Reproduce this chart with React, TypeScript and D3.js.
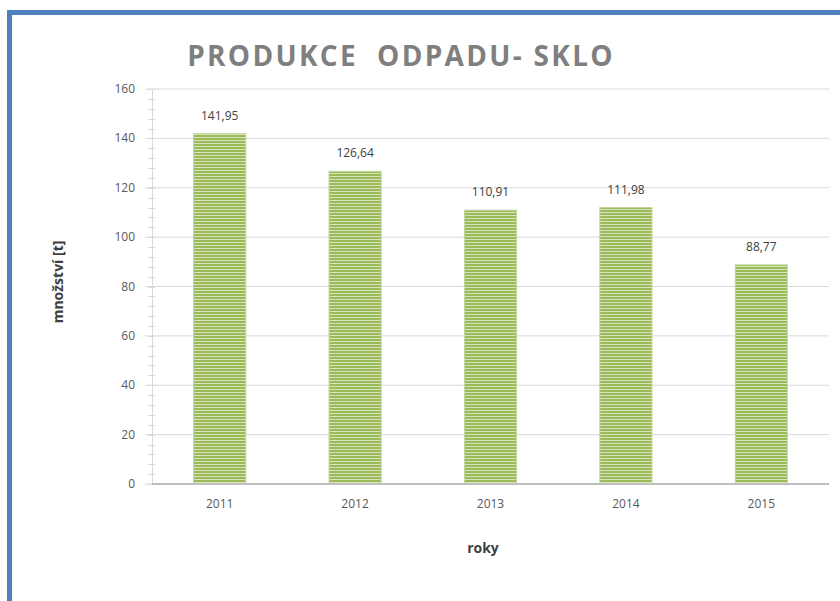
import React from "react";
import * as d3 from "d3";

const categories = ["2011", "2012", "2013", "2014", "2015"];
const values = [141.95, 126.64, 110.91, 111.98, 88.77];
const valueLabels = ["141,95", "126,64", "110,91", "111,98", "88,77"];
const yTicks = [0, 20, 40, 60, 80, 100, 120, 140, 160];
const minorTicks = d3.range(0, 161, 4);
const title = "PRODUKCE  ODPADU- SKLO";
const yTitle = "množství [t]";
const xTitle = "roky";

export default function App() {
  const W = 840, H = 601;
  const left = 152, right = 829, top = 89, bottom = 484;
  const x = d3.scaleBand().domain(categories).range([left, right]).paddingInner(0.615).paddingOuter(0.3075);
  const y = d3.scaleLinear().domain([0, 160]).range([bottom, top]);
  const font = "Open Sans, Liberation Sans, sans-serif";
  return (
    <svg width={W} height={H} style={{ position: "absolute", left: 0, top: 0 }} xmlns="http://www.w3.org/2000/svg">
      <defs>
        <pattern id="stripes" patternUnits="userSpaceOnUse" width="6" height="3">
          <rect x="0" y="0" width="6" height="3" fill="#9bbb59" />
          <rect x="0" y="2" width="6" height="1" fill="#d6e3bc" />
        </pattern>
      </defs>
      <rect x={0} y={0} width={W} height={H} fill="#ffffff" />
      <rect x={9.5} y={12.5} width={W + 20} height={H + 20} fill="#ffffff" stroke="#4f81bd" strokeWidth={5} />
      <text x={401} y={66} textAnchor="middle" fontFamily={font} fontWeight="bold" fontSize={28} fill="#7f7f7f" letterSpacing={2.3} style={{ whiteSpace: "pre" }}>
        {title}
      </text>
      {yTicks.map((t) => (
        <line key={"g" + t} x1={145} x2={right} y1={y(t)} y2={y(t)} stroke="#d9d9d9" strokeWidth={1} />
      ))}
      {minorTicks.map((t) => (
        <line key={"m" + t} x1={148} x2={155} y1={Math.round(y(t)) + 0.5} y2={Math.round(y(t)) + 0.5} stroke="#d9d9d9" strokeWidth={1} />
      ))}
      <line x1={152.5} x2={152.5} y1={top} y2={bottom} stroke="#d9d9d9" strokeWidth={1} />
      {yTicks.map((t) => (
        <text key={"l" + t} x={135} y={y(t) + 4} textAnchor="end" fontFamily={font} fontSize={12} fill="#595959">
          {t}
        </text>
      ))}
      {categories.map((c, i) => (
        <g key={c}>
          <rect x={x(c)} y={y(values[i])} width={x.bandwidth()} height={bottom - y(values[i])} fill="url(#stripes)" stroke="#c3d69b" strokeWidth={1} />
          <text x={(x(c) as number) + x.bandwidth() / 2} y={y(values[i]) - 14} textAnchor="middle" fontFamily={font} fontSize={12} fill="#404040">
            {valueLabels[i]}
          </text>
          <text x={(x(c) as number) + x.bandwidth() / 2} y={508} textAnchor="middle" fontFamily={font} fontSize={12} fill="#595959">
            {c}
          </text>
        </g>
      ))}
      <line x1={152} x2={right} y1={bottom} y2={bottom} stroke="#bfbfbf" strokeWidth={2} />
      <text x={483} y={553} textAnchor="middle" fontFamily={font} fontWeight="bold" fontSize={14} fill="#404040">
        {xTitle}
      </text>
      <text transform={`translate(63,282) rotate(-90)`} textAnchor="middle" fontFamily={font} fontWeight="bold" fontSize={14} fill="#404040">
        {yTitle}
      </text>
    </svg>
  );
}
